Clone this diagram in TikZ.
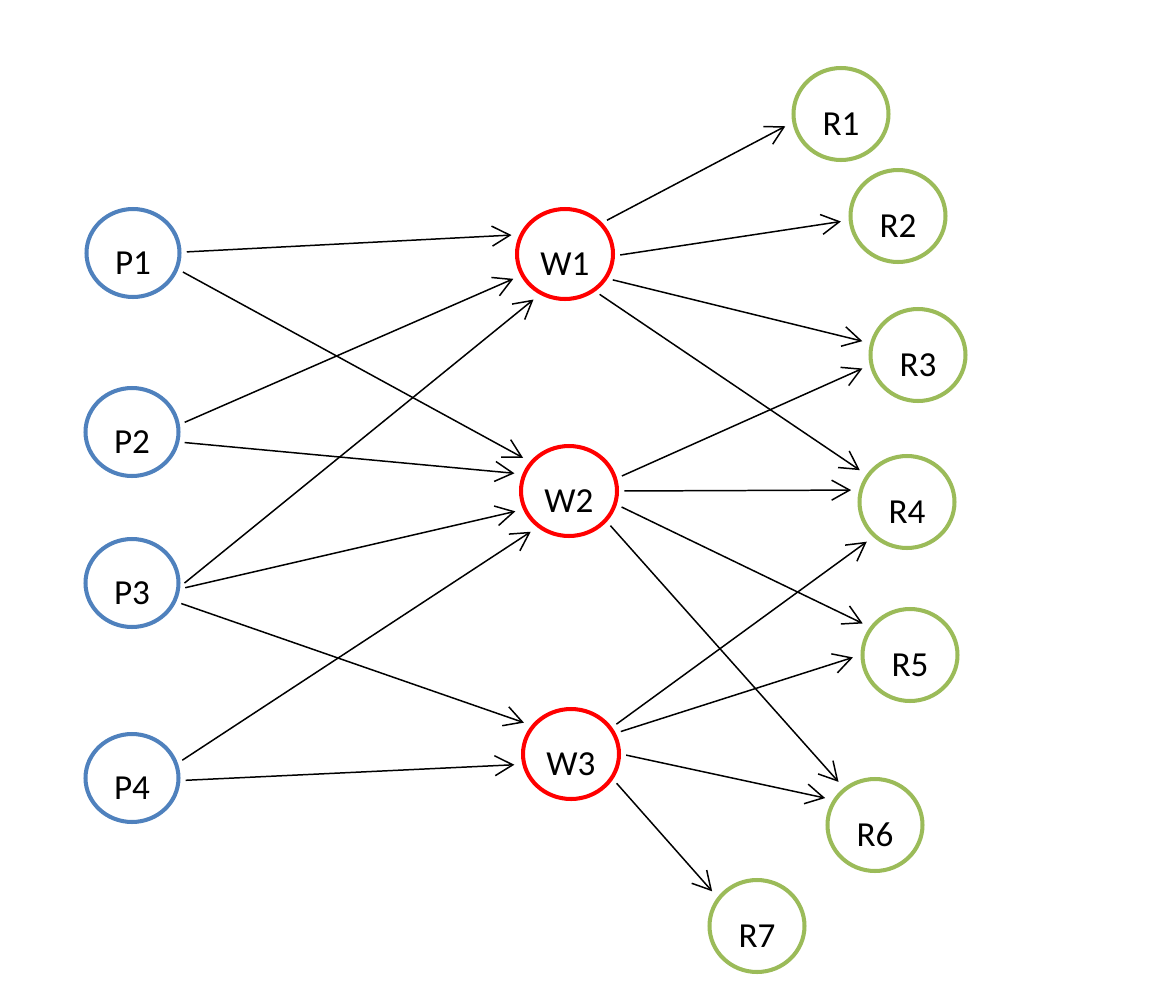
\documentclass[tikz,border=0pt]{standalone}
\usepackage{fontspec}
\setmainfont{Carlito}
\usepackage{tikz}
\usetikzlibrary{shapes.geometric,arrows.meta}
\definecolor{pblue}{RGB}{79,129,189}
\definecolor{wred}{RGB}{255,0,0}
\definecolor{rgreen}{RGB}{155,187,89}

\begin{document}
\begin{tikzpicture}[x=0.02cm,y=-0.02cm,
    circ/.style={shape=ellipse,line width=2.3pt,fill=white,inner sep=1pt,
      text height=24pt,text depth=0pt,font=\fontsize{20}{22}\selectfont},
    pnode/.style={circ,draw=pblue,minimum width=1.86cm,minimum height=1.76cm},
    wnode/.style={circ,draw=wred,minimum width=1.92cm,minimum height=1.80cm},
    rnode/.style={circ,draw=rgreen,minimum width=1.90cm,minimum height=1.84cm},
    link/.style={->,line width=0.85pt,shorten <=3pt,shorten >=4.5pt},
    >={Straight Barb[length=3.6mm,width=4mm]}]
          \useasboundingbox (0,0) rectangle (1164,1008);
          % Producers
          \node[pnode] (P1) at (133,253) {P1};
          \node[pnode] (P2) at (132,432) {P2};
          \node[pnode] (P3) at (132,583) {P3};
          \node[pnode] (P4) at (132,778) {P4};
          % Warehouses
          \node[wnode] (W1) at (565,254) {W1};
          \node[wnode] (W2) at (569,491) {W2};
          \node[wnode] (W3) at (571,754) {W3};
          % Retailers
          \node[rnode] (R1) at (841,114) {R1};
          \node[rnode] (R2) at (898,216) {R2};
          \node[rnode] (R3) at (918,355) {R3};
          \node[rnode] (R4) at (907,502) {R4};
          \node[rnode] (R5) at (910,655) {R5};
          \node[rnode] (R6) at (875,825) {R6};
          \node[rnode] (R7) at (757,926) {R7};
          % Producers to warehouses
          \draw[link] (P1.1) -- (W1.157);
          \draw[link] (P1.-20) -- (W2.143);
          \draw[link] (P2.9) -- (W1.206);
          \draw[link] (P2.-12) -- (W2.160);
          \draw[link] (P3.-4) -- (W1.238);
          \draw[link] (P3.-7) -- (W2.202);
          \draw[link] (P3.-23) -- (W3.144);
          \draw[link] (P4.18) -- (W2.229);
          \draw[link] (P4.-3) -- (W3.192);
          % Warehouses to retailers
          \draw[link] (W1.40) -- (R1.190);
          \draw[link] (W1.-2) -- (R2.185);
          \draw[link] (W1.-30) -- (R3.166);
          \draw[link] (W1.-51) -- (R4.146);
          \draw[link] (W2.15) -- (R3.192);
          \draw[link] (W2.0) -- (R4.166);
          \draw[link] (W2.-16) -- (R5.145);
          \draw[link] (W2.-39) -- (R6.130);
          \draw[link] (W3.33) -- (R4.226);
          \draw[link] (W3.25) -- (R5.180);
          \draw[link] (W3.0) -- (R6.149);
          \draw[link] (W3.-31) -- (R7.144);
        \end{tikzpicture}
\end{document}
